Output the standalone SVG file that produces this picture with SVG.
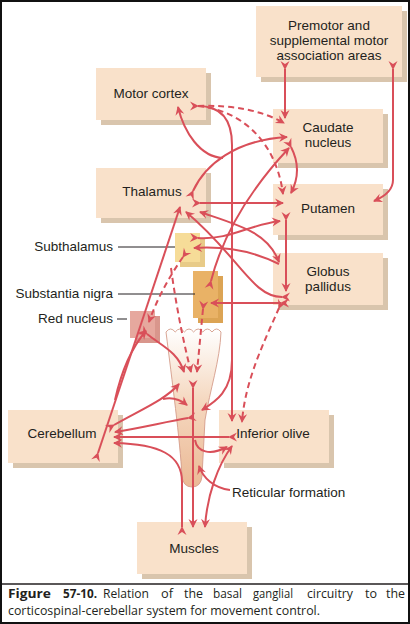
<svg xmlns="http://www.w3.org/2000/svg" width="410" height="624" viewBox="0 0 410 624">
<defs>
<style>
.box{fill:#f9e1ca}
.sh{fill:#d9c5ad}
.lbl{font-family:"Liberation Sans",Arial,sans-serif;font-size:13.5px;fill:#231f20}
.mid{text-anchor:middle}
.end{text-anchor:end}
.cap{font-family:"Open Sans","Noto Sans",sans-serif;font-size:12px;fill:#231f20}
.b{font-weight:bold}
.c{fill:none;stroke:#d94f59;stroke-width:2}
.d{fill:none;stroke:#d94f59;stroke-width:2;stroke-dasharray:6 4}
.lead{stroke:#231f20;stroke-width:1}
</style>
<marker id="ah" viewBox="-10 -6 12 12" refX="0" refY="0" markerWidth="12" markerHeight="12" markerUnits="userSpaceOnUse" orient="auto"><path d="M1,0 L-8,-4.5 L-5,0 L-8,4.5 Z" fill="#d94f59"/></marker>
<marker id="ahr" viewBox="-10 -6 12 12" refX="0" refY="0" markerWidth="12" markerHeight="12" markerUnits="userSpaceOnUse" orient="auto-start-reverse"><path d="M1,0 L-8,-4.5 L-5,0 L-8,4.5 Z" fill="#d94f59"/></marker>
<linearGradient id="bs" x1="0" y1="0" x2="0" y2="1">
<stop offset="0" stop-color="#ffffff"/>
<stop offset="0.45" stop-color="#f5d8c0"/>
<stop offset="1" stop-color="#ebb995"/>
</linearGradient>
</defs>
<rect x="0" y="0" width="410" height="624" fill="#ffffff"/>

<g id="premotor">
<rect class="sh" x="261" y="11" width="146" height="71"/>
<rect class="box" x="256" y="6" width="146" height="71"/>
<text class="lbl mid" x="329" y="30">Premotor and</text>
<text class="lbl mid" x="329" y="45">supplemental motor</text>
<text class="lbl mid" x="329" y="60">association areas</text>
</g>
<g id="motor-cortex">
<rect class="sh" x="101" y="73" width="110" height="52"/>
<rect class="box" x="96" y="68" width="110" height="52"/>
<text class="lbl mid" x="151" y="98">Motor cortex</text>
</g>
<g id="caudate">
<rect class="sh" x="278" y="114" width="110" height="54"/>
<rect class="box" x="273" y="109" width="110" height="54"/>
<text class="lbl mid" x="328" y="132">Caudate</text>
<text class="lbl mid" x="328" y="147">nucleus</text>
</g>
<g id="thalamus">
<rect class="sh" x="101" y="173" width="110" height="50"/>
<rect class="box" x="96" y="168" width="110" height="50"/>
<text class="lbl mid" x="152" y="196">Thalamus</text>
</g>
<g id="putamen">
<rect class="sh" x="278" y="189" width="110" height="51"/>
<rect class="box" x="273" y="184" width="110" height="51"/>
<text class="lbl mid" x="328" y="213">Putamen</text>
</g>
<g id="globus-pallidus">
<rect class="sh" x="278" y="258" width="110" height="52"/>
<rect class="box" x="273" y="253" width="110" height="52"/>
<text class="lbl mid" x="328" y="276">Globus</text>
<text class="lbl mid" x="328" y="291">pallidus</text>
</g>
<g id="cerebellum">
<rect class="sh" x="13" y="415" width="110" height="53"/>
<rect class="box" x="8" y="410" width="110" height="53"/>
<text class="lbl mid" x="62" y="438">Cerebellum</text>
</g>
<g id="inferior-olive">
<rect class="sh" x="224" y="415" width="110" height="53"/>
<rect class="box" x="219" y="410" width="110" height="53"/>
<text class="lbl mid" x="273" y="438">Inferior olive</text>
</g>
<g id="muscles">
<rect class="sh" x="142" y="527" width="110" height="52"/>
<rect class="box" x="137" y="522" width="110" height="52"/>
<text class="lbl mid" x="194" y="553">Muscles</text>
</g>

<g id="brainstem">
<path d="M166,332 Q170.6,326 175.2,332 Q179.8,326 184.4,332 Q189,326 193.6,332 Q198.2,326 202.8,332 Q207.4,326 212,332 Q216.6,326 221,332 C220,360 210,390 205,420 L202,476 Q201,487 192,487 Q183,487 182,476 C180,440 172,380 166,332 Z" fill="url(#bs)" stroke="#d59c8a" stroke-width="0.9"/>
</g>

<g id="subthalamus">
<rect x="180" y="238" width="25" height="29" fill="#e8cb88"/>
<rect x="175" y="233" width="25" height="29" fill="#f6dc98"/>
<line class="lead" x1="118" y1="247" x2="175" y2="247"/>
<text class="lbl end" x="113" y="251">Subthalamus</text>
</g>
<g id="substantia-nigra">
<rect x="198" y="276" width="25" height="47" fill="#dca454"/>
<rect x="193" y="271" width="25" height="47" fill="#e9b266"/>
<line class="lead" x1="118" y1="294" x2="195" y2="294"/>
<text class="lbl end" x="113" y="298">Substantia nigra</text>
</g>
<g id="red-nucleus">
<rect x="135" y="316" width="25" height="27" fill="#d9968c"/>
<rect x="130" y="311" width="25" height="27" fill="#e6a89e"/>
<line class="lead" x1="117" y1="319" x2="127" y2="319"/>
<text class="lbl end" x="113" y="323">Red nucleus</text>
</g>

<g id="connectors">
<path class="c" d="M285,69 L285,118" marker-start="url(#ah)" marker-end="url(#ah)"/>
<path class="c" d="M393,69 L393,180 Q393,193 374,201" marker-start="url(#ah)" marker-end="url(#ah)"/>
<path class="d" d="M198,106 Q250,104 284,123" marker-end="url(#ah)"/>
<path class="d" d="M198,106 C240,110 276,140 283,194" marker-end="url(#ah)"/>
<path class="c" d="M198,106 Q232,106 232,145 L232,421" marker-start="url(#ah)" marker-end="url(#ah)"/>
<path class="c" d="M223,158 C200,157 184,132 178,107" marker-end="url(#ah)"/>
<path class="c" d="M193,191 C205,165 235,140 287,137" marker-start="url(#ah)" marker-end="url(#ah)"/>
<path class="c" d="M291,147 Q303,170 291,193" marker-start="url(#ah)" marker-end="url(#ah)"/>
<path class="c" d="M211,281 C222,238 245,195 289,148" marker-start="url(#ah)" marker-end="url(#ah)"/>
<path class="c" d="M200,203 L283,203" marker-start="url(#ah)" marker-end="url(#ah)"/>
<path class="c" d="M98,453 L180,207" marker-start="url(#ah)" marker-end="url(#ah)"/>
<path class="c" d="M115,400 Q125,355 146,331" marker-end="url(#ah)"/>
<path class="c" d="M282,297 C252,297 238,255 186,212" marker-start="url(#ah)" marker-end="url(#ah)"/>
<path class="c" d="M200,212 C238,225 268,232 279,262" marker-start="url(#ahr)" marker-end="url(#ah)"/>
<path class="c" d="M198,238 C230,240 248,225 280,221" marker-start="url(#ah)" marker-end="url(#ah)"/>
<path class="c" d="M279,264 C255,252 225,246 194,248" marker-end="url(#ah)"/>
<path class="c" d="M286,220 L286,291" marker-start="url(#ah)" marker-end="url(#ah)"/>
<path class="c" d="M281,303 L211,303" marker-start="url(#ah)" marker-end="url(#ah)"/>
<path class="d" d="M203,309 L197,372" marker-start="url(#ah)" marker-end="url(#ah)"/>
<path class="d" d="M183,257 Q160,290 149,322" marker-start="url(#ah)" marker-end="url(#ah)"/>
<path class="d" d="M171,268 Q178,320 191,372" marker-end="url(#ah)"/>
<path class="c" d="M147,334 C162,346 178,352 184,372" marker-start="url(#ah)" marker-end="url(#ah)"/>
<path class="c" d="M193,388 L193,527" marker-start="url(#ah)" marker-end="url(#ah)"/>
<path class="c" d="M114,425 C140,410 165,400 179,384" marker-start="url(#ah)" marker-end="url(#ah)"/>
<path class="c" d="M163,399 Q176,396 187,405" marker-end="url(#ah)"/>
<path class="c" d="M188,418 C165,422 140,428 115,432" marker-start="url(#ah)" marker-end="url(#ah)"/>
<path class="c" d="M229,437 L114,437" marker-start="url(#ah)" marker-end="url(#ah)"/>
<path class="c" d="M182,527 L182,482 C182,455 160,444 114,443" marker-start="url(#ah)" marker-end="url(#ah)"/>
<path class="d" d="M279,308 C265,340 245,380 242,422" marker-start="url(#ah)" marker-end="url(#ah)"/>
<path class="c" d="M195,440 C197,452 210,456 227,447" marker-end="url(#ah)"/>
<path class="c" d="M205,527 C207,495 218,465 232,446" marker-start="url(#ahr)" marker-end="url(#ah)"/>
<path class="c" d="M232,360 C232,392 215,402 202,410" marker-end="url(#ah)"/>
<path class="c" d="M230,490 C214,488 203,478 199,466" marker-end="url(#ah)"/>
</g>
<text class="lbl" x="232" y="497">Reticular formation</text>

<g id="caption">
<line x1="1" y1="584" x2="409" y2="584" stroke="#231f20" stroke-width="1.5"/>
<text class="cap b" x="8" y="598" textLength="43" lengthAdjust="spacingAndGlyphs">Figure</text>
<text class="cap b" x="63" y="598" textLength="34" lengthAdjust="spacingAndGlyphs">57-10.</text>
<text class="cap" x="103" y="598" textLength="46" lengthAdjust="spacingAndGlyphs">Relation</text>
<text class="cap" x="161" y="598" textLength="12" lengthAdjust="spacingAndGlyphs">of</text>
<text class="cap" x="184" y="598" textLength="19" lengthAdjust="spacingAndGlyphs">the</text>
<text class="cap" x="213" y="598" textLength="29" lengthAdjust="spacingAndGlyphs">basal</text>
<text class="cap" x="253" y="598" textLength="40" lengthAdjust="spacingAndGlyphs">ganglial</text>
<text class="cap" x="307" y="598" textLength="46" lengthAdjust="spacingAndGlyphs">circuitry</text>
<text class="cap" x="365" y="598" textLength="12" lengthAdjust="spacingAndGlyphs">to</text>
<text class="cap" x="386" y="598" textLength="19" lengthAdjust="spacingAndGlyphs">the</text>
<text class="cap" x="8" y="615" textLength="312" lengthAdjust="spacingAndGlyphs">corticospinal-cerebellar system for movement control.</text>
</g>
<rect x="1" y="1" width="408" height="622" fill="none" stroke="#111" stroke-width="2"/>
</svg>
